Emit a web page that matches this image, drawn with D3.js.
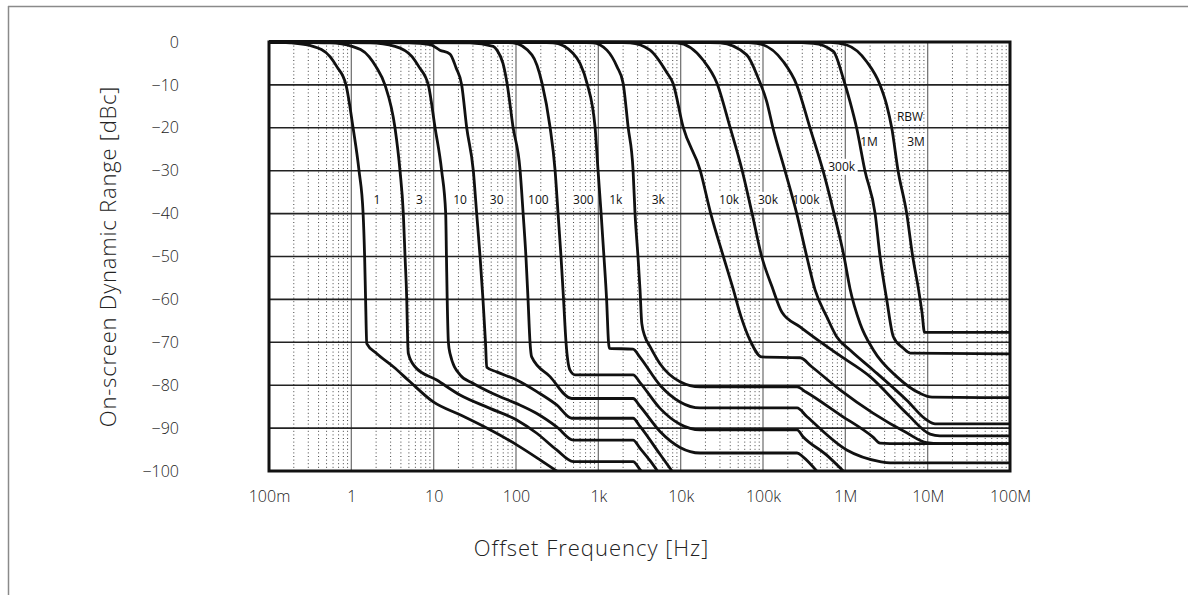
<!DOCTYPE html>
<html>
<head>
<meta charset="utf-8">
<script src="https://cdn.jsdelivr.net/npm/d3@7"></script>
<style>
  html, body { margin: 0; padding: 0; background: #fff; }
  svg { display: block; }
  text { font-family: "Open Sans", "Lato", "DejaVu Sans", sans-serif; }
</style>
</head>
<body>
<svg id="chart" width="1188" height="595"></svg>
<script>
// ---------------- data ----------------
const xTickValues = [0.1, 1, 10, 100, 1e3, 1e4, 1e5, 1e6, 1e7, 1e8];
const xTickLabels = ["100m", "1", "10", "100", "1k", "10k", "100k", "1M", "10M", "100M"];
const yTickValues = [0, -10, -20, -30, -40, -50, -60, -70, -80, -90, -100];
const yTickLabels = ["0", "\u221210", "\u221220", "\u221230", "\u221240", "\u221250", "\u221260", "\u221270", "\u221280", "\u221290", "\u2212100"];

// each RBW curve: [offset frequency Hz, dBc]
const rbw1 = [[0.1,0],[0.18,-0.2],[0.342,-1],[0.551,-3.4],[0.67,-5.8],[0.861,-10],[1.05,-20],[1.24,-30],[1.39,-40],[1.45,-50],[1.49,-60],[1.54,-70.3],[2.03,-72.6],[3.24,-75.7],[5.16,-79.2],[9.9,-83.9],[20.9,-86.9],[44.1,-90],[102,-93.9],[196,-97.4],[312,-100]];
const rbw3 = [[0.1,0],[0.551,-0.2],[1.02,-1],[1.64,-3.4],[2.0,-5.8],[2.56,-10],[3.39,-20],[3.9,-30],[4.28,-40],[4.49,-50],[4.71,-60],[4.84,-70],[4.92,-72.6],[5.93,-75.7],[10.9,-78.8],[20.9,-82.3],[48.3,-85.4],[102,-88.1],[179,-91.2],[312,-95.1],[497,-97.8],[2640,-97.8],[3210,-99.7],[3490,-100.5]];
const rbw10 = [[0.1,0],[1.69,-0.2],[3.39,-1],[5.46,-3.4],[6.64,-5.8],[8.61,-10],[10.4,-20],[12.5,-30],[14.0,-40],[14.3,-50],[14.6,-60],[15.1,-70],[15.8,-72.6],[20.9,-77.6],[30.3,-79.6],[53,-82],[102,-84.3],[179,-86.6],[312,-89.7],[497,-92.8],[2640,-92.8],[3210,-94.7],[4250,-97.6],[5310,-100.2]];
const rbw30 = [[0.1,0],[5.16,-0.2],[9.03,-0.6],[11.9,-1.9],[15.8,-2.8],[18.7,-6],[21.9,-10],[25.2,-20],[30.3,-30],[33.3,-40],[36.6,-50],[39.7,-60],[42.6,-70],[44.1,-75.8],[58.3,-76.9],[102,-78.8],[179,-81.5],[312,-84.6],[475,-87.7],[2640,-87.7],[3210,-89.6],[5610,-96.1],[7850,-100]];
const rbw100 = [[0.1,0],[27.6,-0.2],[53,-1],[58.8,-1.9],[69.5,-5],[77.8,-9.6],[92,-19.8],[112,-29.8],[122,-39.9],[132,-50],[140,-60],[148,-70],[155,-73.4],[259,-78],[475,-83.1],[2640,-83.1],[3210,-84.9],[5610,-90.8],[9820,-94.5],[17200,-95.8],[259000,-95.8],[306000,-96.7],[449000,-100]];
const rbw300 = [[0.1,0],[64,-0.1],[92,-0.2],[156,-3],[207,-9.6],[259,-19.8],[298,-29.8],[324,-39.9],[352,-50],[378,-60],[405,-70],[453,-76.5],[521,-77.6],[2640,-77.6],[3210,-79.4],[5610,-85.4],[9820,-89.1],[17200,-90.4],[259000,-90.4],[306000,-92],[594000,-96.3],[944000,-100]];
const rbw1k = [[0.1,0],[196,-0.1],[282,-0.2],[492,-2.6],[599,-5],[728,-9.6],[912,-19.8],[991,-29.8],[1080,-39.9],[1170,-50],[1260,-60],[1330,-70],[1360,-71.4],[2640,-71.6],[3210,-73.5],[5610,-80],[9820,-83.9],[17200,-85.3],[259000,-85.3],[340000,-87.3],[1.04e6,-95.1],[2.64e6,-97.8],[3.49e6,-98.1],[1e8,-98.1]];
const rbw3k = [[0.1,0],[599,-0.1],[861,-0.2],[1270,-1.9],[1690,-5.8],[2000,-9.6],[2300,-19.8],[2640,-29.8],[2790,-39.9],[3030,-50],[3210,-57.8],[3370,-65.6],[3690,-68.7],[4250,-71],[5610,-75],[9820,-79.2],[17200,-80.4],[259000,-80.4],[333000,-81.6],[862000,-86.9],[2.17e6,-92.1],[2.64e6,-93.5],[3.49e6,-93.6],[1e8,-93.6]];
const rbw10k = [[0.1,0],[1600,-0.1],[2430,-0.2],[4250,-1.9],[6830,-7.2],[8070,-9.6],[10700,-19.8],[17200,-29.8],[23200,-40],[33000,-50],[43300,-57.5],[54100,-64],[69500,-69.5],[96400,-73.4],[282000,-73.6],[391000,-75.7],[862000,-81.1],[2.17e6,-86.5],[5.57e6,-91.1],[9.75e6,-93.4],[1.41e7,-93.6],[1e8,-93.6]];
const rbw30k = [[0.1,0],[5610,-0.1],[9030,-0.2],[18700,-4.2],[27600,-9.6],[39700,-19.8],[55600,-29.8],[73600,-39.9],[96400,-50],[128500,-57],[170000,-63],[282000,-66.4],[785000,-72.6],[2.0e6,-78],[5.57e6,-86.6],[1.07e7,-91.4],[1.41e7,-91.8],[1e8,-91.8]];
const rbw100k = [[0.1,0],[17200,-0.1],[30100,-0.2],[63400,-3],[87800,-8.5],[111000,-13.9],[132000,-20],[185000,-30],[257000,-40],[340000,-50],[429000,-57.8],[594000,-64],[785000,-68.7],[1.14e6,-71.8],[2.19e6,-76.5],[5.57e6,-83.5],[9.75e6,-88.1],[1.23e7,-89],[1e8,-89]];
const rbw300k = [[0.1,0],[52600,-0.1],[83900,-0.3],[177000,-4.6],[257000,-10],[372000,-20],[536000,-30],[729000,-40],[964000,-50],[1.14e6,-57.5],[1.51e6,-65.6],[2.19e6,-71.8],[4.21e6,-78],[8.07e6,-81.9],[1.13e7,-82.8],[1e8,-82.9]];
const rbw1M = [[0.1,0],[213000,-0.1],[408000,-0.3],[715000,-2.2],[944000,-8.5],[1.14e6,-13.9],[1.37e6,-20],[1.73e6,-30],[2.30e6,-40],[2.64e6,-50],[3.18e6,-60],[3.83e6,-68.7],[5.06e6,-71.4],[6.11e6,-72.5],[1e8,-72.7]];
const rbw3M = [[0.1,0],[652000,-0.1],[1.04e6,-0.7],[1.82e6,-4.6],[2.64e6,-10],[3.18e6,-14.7],[3.66e6,-20],[4.37e6,-30],[5.57e6,-40],[6.58e6,-50],[7.64e6,-57],[8.53e6,-63],[9.16e6,-67.7],[1e8,-67.7]];

const curveSeries = [rbw1, rbw3, rbw10, rbw30, rbw100, rbw300, rbw1k, rbw3k, rbw10k, rbw30k, rbw100k, rbw300k, rbw1M, rbw3M];

// curve annotation texts and their anchors (Hz, dBc)
const labelTexts = ["1", "3", "10", "30", "100", "300", "1k", "3k", "10k", "30k", "100k", "300k", "1M", "3M", "RBW"];
const labelFreqs = [2.05, 6.7, 20.9, 58.3, 187, 657, 1630, 5350, 38700, 115000, 333000, 903000, 1.94e6, 7.22e6, 6.11e6];
const labelDbs = [-36.8, -36.8, -36.8, -36.8, -36.8, -36.8, -36.8, -36.8, -36.8, -36.8, -36.8, -29.1, -23.2, -23.2, -17.4];

const xTitle = "Offset Frequency [Hz]";
const yTitle = "On-screen Dynamic Range [dBc]";

// ---------------- drawing ----------------
const svg = d3.select("#chart");
const L = 269, R = 1010, T = 42, B = 471;

const x = d3.scaleLog().domain([0.1, 1e8]).range([L, R]);
const y = d3.scaleLinear().domain([-100, 0]).range([B, T]);

// outer frame of the figure
svg.append("line").attr("x1", 8).attr("x2", 1188).attr("y1", 6.5).attr("y2", 6.5)
  .attr("stroke", "#8a8a8a").attr("stroke-width", 1.5);
svg.append("line").attr("x1", 8.5).attr("x2", 8.5).attr("y1", 6).attr("y2", 595)
  .attr("stroke", "#8a8a8a").attr("stroke-width", 1.5);

const grid = svg.append("g");

// minor dotted verticals
const minor = [];
for (let e = -1; e < 8; e++) for (let k = 2; k <= 9; k++) minor.push(k * Math.pow(10, e));
grid.selectAll("line.minor").data(minor).enter().append("line")
  .attr("class", "minor")
  .attr("x1", d => x(d)).attr("x2", d => x(d))
  .attr("y1", T).attr("y2", B)
  .attr("stroke", "#444").attr("stroke-width", 1)
  .attr("stroke-dasharray", "1,2.6");

// decade verticals
grid.selectAll("line.major").data(xTickValues.slice(1, -1)).enter().append("line")
  .attr("class", "major")
  .attr("x1", d => x(d)).attr("x2", d => x(d))
  .attr("y1", T).attr("y2", B)
  .attr("stroke", "#777").attr("stroke-width", 1.3);

// horizontal gridlines
grid.selectAll("line.h").data(yTickValues.slice(1, -1)).enter().append("line")
  .attr("class", "h")
  .attr("x1", L).attr("x2", R)
  .attr("y1", d => y(d)).attr("y2", d => y(d))
  .attr("stroke", "#222").attr("stroke-width", 1.6);

// curve labels with white boxes
const lab = svg.append("g");
labelTexts.forEach((t, i) => {
  const cx = x(labelFreqs[i]), cy = y(labelDbs[i]);
  const w = t.length * 7 + 4;
  lab.append("rect").attr("x", cx - w / 2).attr("y", cy - 8).attr("width", w).attr("height", 16)
    .attr("fill", "#fff");
  lab.append("text").attr("x", cx).attr("y", cy).attr("dy", "0.35em")
    .attr("text-anchor", "middle").attr("font-size", 12).attr("fill", "#111")
    .text(t);
});

// clip
svg.append("clipPath").attr("id", "plotclip").append("rect")
  .attr("x", L).attr("y", T - 3).attr("width", R - L).attr("height", B - T + 3);

const line = d3.line().x(d => x(d[0])).y(d => y(d[1])).curve(d3.curveMonotoneX);
svg.append("g").attr("clip-path", "url(#plotclip)")
  .selectAll("path").data(curveSeries).enter().append("path")
  .attr("d", line)
  .attr("fill", "none").attr("stroke", "#111").attr("stroke-width", 2.8)
  .attr("stroke-linejoin", "round").attr("stroke-linecap", "round");

// frame
svg.append("rect").attr("x", L).attr("y", T).attr("width", R - L).attr("height", B - T)
  .attr("fill", "none").attr("stroke", "#111").attr("stroke-width", 3);

// axes (ticks hidden, labels only)
const xAxis = d3.axisBottom(x).tickValues(xTickValues).tickFormat((d, i) => xTickLabels[i]).tickSize(0).tickPadding(20);
const gx = svg.append("g").attr("transform", `translate(0,${B})`).call(xAxis);
gx.select(".domain").remove();
gx.selectAll("text").attr("font-size", 16).attr("fill", "#222").attr("font-weight", 300)
  .style("font-family", "'Open Sans', Lato, sans-serif");

const yAxis = d3.axisLeft(y).tickValues(yTickValues).tickFormat((d, i) => yTickLabels[i]).tickSize(0).tickPadding(90);
const gy = svg.append("g").attr("transform", `translate(${L},0)`).call(yAxis);
gy.select(".domain").remove();
gy.selectAll("text").attr("font-size", 16).attr("fill", "#222").attr("font-weight", 300)
  .style("font-family", "'Open Sans', Lato, sans-serif");

// titles
svg.append("text").attr("x", (L + R) / 2 - 48).attr("y", 548).attr("dy", "0.35em")
  .attr("text-anchor", "middle").attr("font-size", 22).attr("font-weight", 300).attr("fill", "#222")
  .attr("letter-spacing", 1)
  .text(xTitle);
svg.append("text").attr("transform", `translate(108,${(T + B) / 2}) rotate(-90)`).attr("dy", "0.35em")
  .attr("text-anchor", "middle").attr("font-size", 22).attr("font-weight", 300).attr("fill", "#222")
  .attr("letter-spacing", 0.8)
  .text(yTitle);
</script>
</body>
</html>
